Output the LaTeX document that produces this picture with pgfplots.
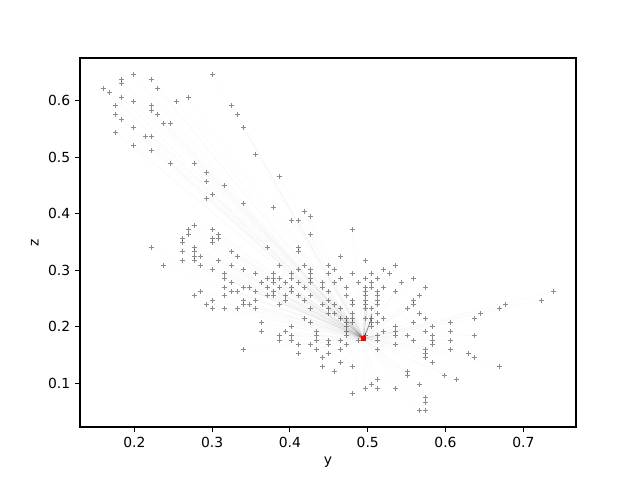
\documentclass[border=0pt]{standalone}
\usepackage{fontspec}
\setmainfont{DejaVu Sans}
\usepackage{pgfplots}
\pgfplotsset{compat=1.18}
\usepackage{pgfplotstable}

% sampled points (y, z)
\pgfplotstableread{
x z
0.1987 0.6467
0.3003 0.6467
0.1833 0.6379
0.2219 0.6379
0.1833 0.6308
0.1602 0.6219
0.2296 0.6219
0.1679 0.6149
0.1833 0.6060
0.2694 0.6060
0.1987 0.5989
0.2540 0.5989
0.1756 0.5919
0.2219 0.5919
0.3247 0.5919
0.2219 0.5830
0.1756 0.5759
0.2296 0.5759
0.3324 0.5759
0.1833 0.5671
0.2373 0.5600
0.2463 0.5600
0.1987 0.5529
0.3401 0.5529
0.1756 0.5441
0.2141 0.5370
0.2219 0.5370
0.1987 0.5211
0.2219 0.5122
0.3555 0.5052
0.2463 0.4892
0.2771 0.4892
0.2925 0.4733
0.3864 0.4662
0.2925 0.4574
0.3157 0.4503
0.3003 0.4344
0.2925 0.4273
0.3401 0.4185
0.3787 0.4114
0.4185 0.4043
0.4262 0.3955
0.4018 0.3884
0.4108 0.3884
0.2771 0.3796
0.2694 0.3725
0.3003 0.3725
0.4802 0.3725
0.2694 0.3636
0.3080 0.3636
0.4262 0.3636
0.2617 0.3565
0.3003 0.3565
0.3080 0.3565
0.2617 0.3495
0.3003 0.3495
0.2219 0.3406
0.2771 0.3406
0.3710 0.3406
0.4108 0.3406
0.2617 0.3335
0.2771 0.3335
0.3247 0.3335
0.4108 0.3335
0.2771 0.3247
0.2848 0.3247
0.3324 0.3247
0.4648 0.3247
0.2617 0.3176
0.2771 0.3176
0.3080 0.3176
0.4969 0.3176
0.2373 0.3088
0.2848 0.3088
0.3247 0.3088
0.3864 0.3088
0.4185 0.3088
0.4494 0.3088
0.5355 0.3088
0.3003 0.3017
0.3401 0.3017
0.4108 0.3017
0.4262 0.3017
0.4571 0.3017
0.5200 0.3017
0.3157 0.2946
0.3555 0.2946
0.3787 0.2946
0.4018 0.2946
0.4262 0.2946
0.4494 0.2946
0.4802 0.2946
0.5046 0.2946
0.5278 0.2946
0.3157 0.2858
0.3710 0.2858
0.3787 0.2858
0.3864 0.2858
0.4018 0.2858
0.4262 0.2858
0.4648 0.2858
0.4969 0.2858
0.5123 0.2858
0.5586 0.2858
0.3247 0.2787
0.3632 0.2787
0.3787 0.2787
0.3941 0.2787
0.4108 0.2787
0.4262 0.2787
0.4416 0.2787
0.4571 0.2787
0.4879 0.2787
0.5046 0.2787
0.5432 0.2787
0.3157 0.2699
0.3401 0.2699
0.3478 0.2699
0.3710 0.2699
0.3864 0.2699
0.4018 0.2699
0.4185 0.2699
0.4416 0.2699
0.4725 0.2699
0.4969 0.2699
0.5046 0.2699
0.5200 0.2699
0.5740 0.2699
0.2848 0.2628
0.3247 0.2628
0.3324 0.2628
0.3555 0.2628
0.3787 0.2628
0.4018 0.2628
0.4494 0.2628
0.4969 0.2628
0.5123 0.2628
0.5355 0.2628
0.7386 0.2628
0.2771 0.2557
0.3157 0.2557
0.3710 0.2557
0.3787 0.2557
0.3941 0.2557
0.4108 0.2557
0.4262 0.2557
0.4725 0.2557
0.4969 0.2557
0.5123 0.2557
0.5663 0.2557
0.3003 0.2469
0.3401 0.2469
0.3555 0.2469
0.3941 0.2469
0.4185 0.2469
0.4494 0.2469
0.4802 0.2469
0.4969 0.2469
0.5123 0.2469
0.5586 0.2469
0.7231 0.2469
0.2925 0.2398
0.3401 0.2398
0.3478 0.2398
0.3864 0.2398
0.4416 0.2398
0.4571 0.2398
0.4802 0.2398
0.4969 0.2398
0.5123 0.2398
0.5586 0.2398
0.6769 0.2398
0.3003 0.2327
0.3157 0.2327
0.3324 0.2327
0.3555 0.2327
0.4262 0.2327
0.4494 0.2327
0.4648 0.2327
0.4969 0.2327
0.5046 0.2327
0.5509 0.2327
0.6692 0.2327
0.4494 0.2238
0.4571 0.2238
0.4802 0.2238
0.5123 0.2238
0.5663 0.2238
0.6447 0.2238
0.4185 0.2150
0.4648 0.2150
0.4725 0.2150
0.4802 0.2150
0.4969 0.2150
0.5046 0.2150
0.5200 0.2150
0.5740 0.2150
0.6370 0.2150
0.3632 0.2079
0.4262 0.2079
0.4725 0.2079
0.4802 0.2079
0.5046 0.2079
0.5123 0.2079
0.5586 0.2079
0.6062 0.2079
0.4018 0.2008
0.4725 0.2008
0.5046 0.2008
0.5355 0.2008
0.5830 0.2008
0.3632 0.1920
0.3941 0.1920
0.4339 0.1920
0.4725 0.1920
0.5200 0.1920
0.5355 0.1920
0.5740 0.1920
0.6062 0.1920
0.3864 0.1849
0.4018 0.1849
0.4339 0.1849
0.4725 0.1849
0.4969 0.1849
0.5123 0.1849
0.5355 0.1849
0.5509 0.1849
0.5830 0.1849
0.6370 0.1849
0.3864 0.1761
0.4018 0.1761
0.4339 0.1761
0.4494 0.1761
0.4648 0.1761
0.4879 0.1761
0.5123 0.1761
0.5586 0.1761
0.5830 0.1761
0.6062 0.1761
0.4108 0.1690
0.4262 0.1690
0.4494 0.1690
0.4725 0.1690
0.5355 0.1690
0.5830 0.1690
0.3401 0.1602
0.4339 0.1602
0.4648 0.1602
0.5123 0.1602
0.5740 0.1602
0.6062 0.1602
0.4108 0.1531
0.4494 0.1531
0.5740 0.1531
0.6293 0.1531
0.4416 0.1460
0.5740 0.1460
0.6370 0.1460
0.4648 0.1372
0.5830 0.1372
0.4416 0.1301
0.4802 0.1301
0.6692 0.1301
0.4571 0.1212
0.5509 0.1212
0.5509 0.1142
0.5985 0.1142
0.5123 0.1071
0.6139 0.1071
0.5046 0.0982
0.5663 0.0982
0.4969 0.0912
0.5123 0.0912
0.5355 0.0912
0.4802 0.0823
0.5740 0.0752
0.5740 0.0664
0.5663 0.0522
0.5740 0.0522
}\pts

\begin{document}
\begin{tikzpicture}
\path[use as bounding box] (-57.6pt,-38.16pt) rectangle (403.2pt,307.44pt);
\begin{axis}[
    at={(0,0)}, anchor=south west,
    scale only axis,
    width=357.12pt, height=265.68pt,
    xmin=0.1302, xmax=0.7677,
    ymin=0.0227, ymax=0.6755,
    xtick={0.2,0.3,0.4,0.5,0.6,0.7},
    ytick={0.1,0.2,0.3,0.4,0.5,0.6},
    xtick pos=bottom, ytick pos=left,
    tick align=outside,
    major tick length=3.5pt,
    every tick/.style={black, line width=0.8pt},
    axis line style={line width=0.8pt},
    xticklabel style={/pgf/number format/fixed, /pgf/number format/fixed zerofill, /pgf/number format/precision=1},
    yticklabel style={/pgf/number format/fixed, /pgf/number format/fixed zerofill, /pgf/number format/precision=1},
    /pgf/number format/assume math mode=true,
    tick label style={font=\fontsize{10}{12}\selectfont},
    label style={font=\fontsize{10}{12}\selectfont},
    xlabel={y}, ylabel={z},
    clip=true,
]
% faint paths from every point into the attractor
\addplot[quiver={u={0.4943-x}, v={0.1796-y}}, draw=black, opacity=0.018, line width=0.4pt]
    table[x=x, y=z] {\pts};
% converging strand just above the end point
\addplot[black, opacity=0.45, line width=0.5pt]
    coordinates {(0.4943,0.1796) (0.4990,0.1930) (0.5030,0.2080) (0.5050,0.2230)};
\addplot[black, opacity=0.15, line width=0.4pt]
    coordinates {(0.4943,0.1796) (0.4960,0.1950) (0.4980,0.2150) (0.4990,0.2350)};
% sampled points
\addplot[only marks, mark=+, mark size=1.7pt, draw=black, opacity=0.45, mark options={line width=0.5pt}]
    table[x=x, y=z] {\pts};
% end point
\addplot[only marks, mark=square*, mark size=1.3pt, red]
    coordinates {(0.4943,0.1796)};
\end{axis}
\end{tikzpicture}
\end{document}
